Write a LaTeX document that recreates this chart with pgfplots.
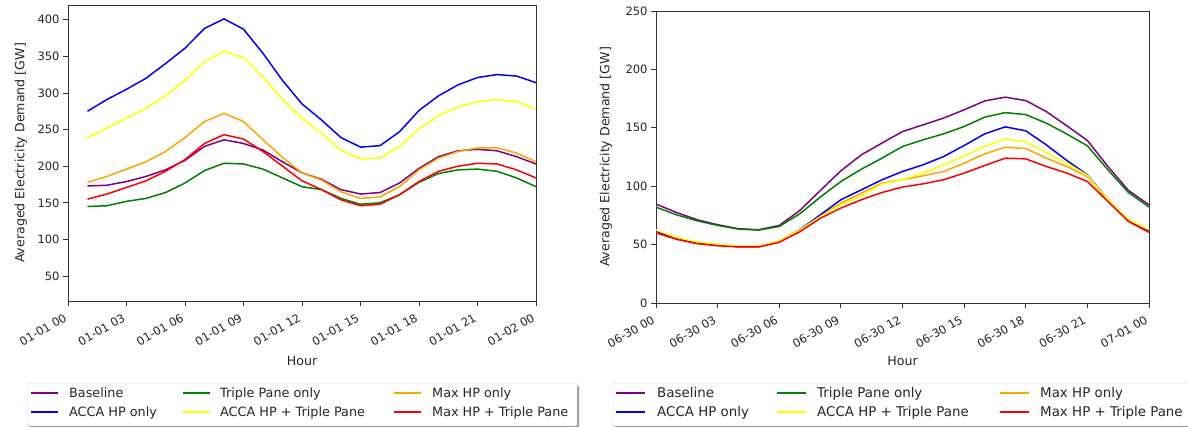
\documentclass[border=0pt]{standalone}
\usepackage{fontspec}
\setmainfont{DejaVu Sans}
\usepackage{pgfplots}
\pgfplotsset{compat=1.18}

\definecolor{mplpurple}{rgb}{0.502,0,0.502}
\definecolor{mplgreen}{rgb}{0,0.502,0}
\definecolor{mplorange}{rgb}{1,0.647,0}
\definecolor{mplyellow}{rgb}{1,1,0}
\definecolor{mplblue}{rgb}{0,0,1}
\definecolor{mplred}{rgb}{1,0,0}

% hours 1..24 (01-01)
\pgfplotstableread{
h base acca triple accatp maxhp maxtp
1  173 275 145 239 178 155
2  174 291 146 252 186 162
3  179 305 152 266 196 171
4  186 320 156 279 206 180
5  195 340 164 296 220 193
6  208 361 177 317 239 209
7  227 388 194 343 261 231
8  236 401 204 357 272 243
9  231 387 203 348 261 237
10 222 354 196 322 236 220
11 206 317 184 291 212 200
12 191 285 172 265 191 180
13 182 263 168 245 181 168
14 168 239 156 222 165 154
15 162 226 148 210 156 146
16 164 228 150 211 158 148
17 177 247 161 227 172 161
18 197 276 178 251 195 179
19 213 296 190 269 211 193
20 221 311 195 281 220 200
21 223 321 196 288 225 204
22 221 325 193 291 225 203
23 213 323 184 288 218 195
24 203 314 172 278 206 184
}\winter

% hours 0..24 (06-30)
\pgfplotstableread{
h base acca triple accatp maxhp maxtp
0  84.7 61.5 82.1 62.5 62.0 60.0
1  77.5 55.4 75.5 56.0 55.8 54.5
2  71.3 51.6 70.4 52.2 52.0 50.8
3  67.0 49.7 66.4 50.2 50.0 49.0
4  63.6 48.2 63.3 48.6 48.4 48.0
5  62.7 48.3 62.4 48.6 48.4 48.0
6  66.4 52.7 65.5 53.0 52.9 52.0
7  79.2 62.7 76.4 62.5 62.5 61.0
8  96.3 75.5 90.7 74.0 74.5 72.5
9  113.2 88.4 104.0 84.1 85.5 81.3
10 126.9 96.9 114.6 91.8 94.1 88.4
11 136.9 105.5 124.0 101.8 102.6 94.6
12 146.8 112.6 134.0 105.5 105.5 99.3
13 152.5 118.3 139.7 111.2 108.9 102.0
14 158.3 125.4 144.8 118.3 112.6 105.5
15 165.4 134.8 151.1 126.0 119.7 111.2
16 173.0 144.8 159.1 134.0 127.7 117.7
17 176.2 150.8 163.0 140.3 133.4 124.0
18 173.3 147.4 161.3 138.2 132.2 123.4
19 163.9 135.4 154.0 128.8 124.0 116.9
20 151.7 122.0 144.6 119.7 116.9 111.2
21 139.1 109.8 134.6 109.3 108.3 104.0
22 116.9 88.4 114.0 88.4 88.0 86.9
23 96.3 71.0 94.6 71.3 71.0 69.8
24 84.0 62.0 82.1 62.7 62.0 60.5
}\summer

\tikzset{s/.style={color=#1, line width=1.5pt, line join=round}}

\pgfplotsset{
  demand/.style={
    scale only axis,
    xmin=0, xmax=24,
    xtick={0,3,...,24},
    tick align=outside,
    major tick length=5pt,
    axis line style={black!80},
    every tick/.style={black!80, line width=0.8pt},
    axis x line*=box, axis y line*=box,
    xtick pos=bottom, ytick pos=left,
    tick label style={font=\fontsize{11.5}{13}\selectfont, black!85},
    /pgf/number format/assume math mode=true,
    xticklabel style={xshift=-4pt, yshift=-4pt, rotate=30, anchor=north east, inner sep=2pt},
    label style={font=\fontsize{12.6}{14}\selectfont, black!85},
    xlabel={Hour},
    ylabel={Averaged Electricity Demand [GW]},
  },
}

% legend box: x0 x1 (box), then three columns of (line start, text start), line length
\newcommand\legendbox[9]{%
  \fill[black!40, rounded corners=2pt] (#1pt+2pt,-1.5pt) rectangle (#2pt+2pt,41.5pt);
  \draw[black!20, fill=white, rounded corners=2pt] (#1pt,1pt) rectangle (#2pt,44pt);
  \legendrow{#3}{#4}{#5}{#6}{#7}{#8}{#9}}
\newcommand\legendrow[7]{%
  \draw[s=mplpurple] (#1pt,34pt) -- ++(#7pt,0pt);
  \draw[s=mplblue]   (#1pt,15pt) -- ++(#7pt,0pt);
  \draw[s=mplgreen]  (#3pt,34pt) -- ++(#7pt,0pt);
  \draw[s=mplyellow] (#3pt,15pt) -- ++(#7pt,0pt);
  \draw[s=mplorange] (#5pt,34pt) -- ++(#7pt,0pt);
  \draw[s=mplred]    (#5pt,15pt) -- ++(#7pt,0pt);
  \node[anchor=base west, inner sep=0pt] at (#2pt,29.5pt) {Baseline};
  \node[anchor=base west, inner sep=0pt] at (#2pt,10.5pt) {ACCA HP only};
  \node[anchor=base west, inner sep=0pt] at (#4pt,29.5pt) {Triple Pane only};
  \node[anchor=base west, inner sep=0pt] at (#4pt,10.5pt) {ACCA HP + Triple Pane};
  \node[anchor=base west, inner sep=0pt] at (#6pt,29.5pt) {Max HP only};
  \node[anchor=base west, inner sep=0pt] at (#6pt,10.5pt) {Max HP + Triple Pane};}

\begin{document}
\begin{tikzpicture}
\path[use as bounding box] (0pt,0pt) rectangle (1188pt,427pt);

\begin{axis}[demand,
  at={(68pt,126pt)}, anchor=south west,
  width=468pt, height=296pt,
  ymin=16, ymax=420,
  ytick={50,100,...,400},
  xticklabels={01-01 00,01-01 03,01-01 06,01-01 09,01-01 12,01-01 15,01-01 18,01-01 21,01-02 00},
  xlabel style={at={(axis description cs:0.5,0)}, anchor=center, yshift=-60pt},
  ylabel style={at={(axis description cs:0,0.5)}, anchor=center, yshift=47pt},
]
\addplot[s=mplpurple] table[x=h, y=base] {\winter};
\addplot[s=mplgreen] table[x=h, y=triple] {\winter};
\addplot[s=mplorange] table[x=h, y=maxhp] {\winter};
\addplot[s=mplblue] table[x=h, y=acca] {\winter};
\addplot[s=mplyellow] table[x=h, y=accatp] {\winter};
\addplot[s=mplred] table[x=h, y=maxtp] {\winter};
\end{axis}

\begin{axis}[demand,
  at={(656pt,124pt)}, anchor=south west,
  width=493pt, height=292pt,
  ymin=0, ymax=250,
  ytick={0,50,...,250},
  xticklabels={06-30 00,06-30 03,06-30 06,06-30 09,06-30 12,06-30 15,06-30 18,06-30 21,07-01 00},
  xlabel style={at={(axis description cs:0.5,0)}, anchor=center, yshift=-58pt},
  ylabel style={at={(axis description cs:0,0.5)}, anchor=center, yshift=50pt},
]
\addplot[s=mplpurple] table[x=h, y=base] {\summer};
\addplot[s=mplgreen] table[x=h, y=triple] {\summer};
\addplot[s=mplorange] table[x=h, y=maxhp] {\summer};
\addplot[s=mplblue] table[x=h, y=acca] {\summer};
\addplot[s=mplyellow] table[x=h, y=accatp] {\summer};
\addplot[s=mplred] table[x=h, y=maxtp] {\summer};
\end{axis}

% legends below the two panels
\begingroup
\fontsize{12.8}{14}\selectfont\color{black!85}
\legendbox{27}{577}{31}{69}{183}{220}{394}{432}{27}
\endgroup
\begingroup
\fontsize{13.4}{15}\selectfont\color{black!85}
\legendbox{613}{1194}{616}{657}{777}{817}{1000}{1040}{29}
\endgroup
\end{tikzpicture}
\end{document}
